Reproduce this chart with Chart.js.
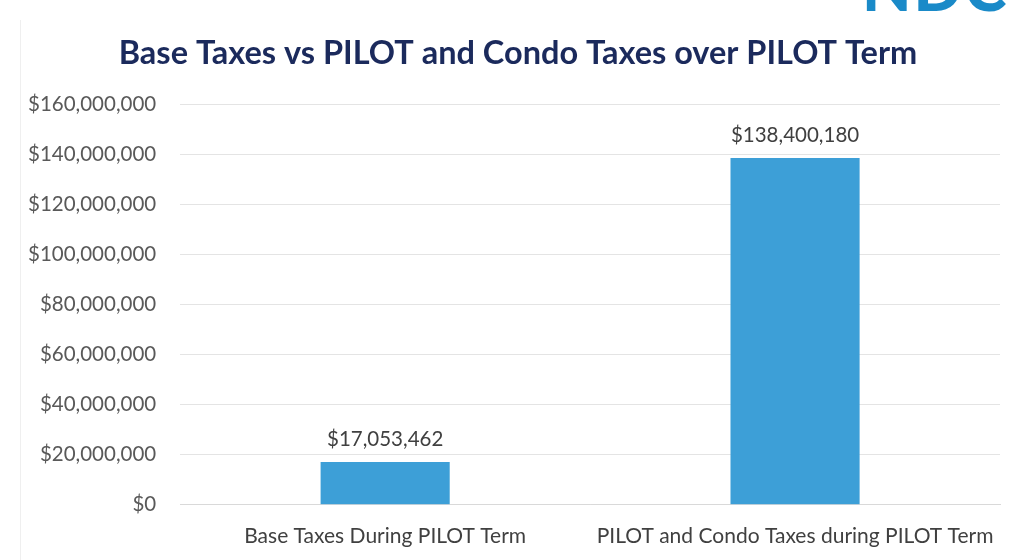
<!DOCTYPE html>
<html>
<head>
<meta charset="utf-8">
<script src="https://cdn.jsdelivr.net/npm/chart.js@4/dist/chart.umd.min.js"></script>
<style>
  html, body { margin: 0; padding: 0; background: #fff; overflow: hidden; }
  #wrap { position: relative; width: 1022px; height: 560px; }
  #logo {
    position: absolute; top: -52px; left: 862px;
    font: 900 64px Lato, sans-serif; color: #1a8ac8; letter-spacing: 2px;
  }
  #frame {
    position: absolute; left: 20px; top: 20px; width: 1px; height: 540px; background: #efefef;
  }
</style>
</head>
<body>
<div id="wrap">
  <div id="frame"></div>
  <div id="logo">NDC</div>
  <canvas id="taxChart" width="1022" height="560"></canvas>
</div>
<script>
const categories = ["Base Taxes During PILOT Term", "PILOT and Condo Taxes during PILOT Term"];
const taxTotals = [17053462, 138400180];
const yMax = 160000000;
const yStep = 20000000;

const money = v => "$" + Math.round(v).toLocaleString("en-US");

// writes the dollar amount above each bar
const valueLabels = {
  id: "valueLabels",
  afterDatasetsDraw(chart) {
    const ctx = chart.ctx;
    const meta = chart.getDatasetMeta(0);
    ctx.save();
    ctx.font = "20.5px Lato, sans-serif";
    ctx.fillStyle = "#404040";
    ctx.textAlign = "center";
    ctx.textBaseline = "bottom";
    meta.data.forEach((bar, i) => {
      ctx.fillText(money(chart.data.datasets[0].data[i]), bar.x, bar.y - 12);
    });
    ctx.restore();
  }
};

// nudge the title a little to the right of the canvas centre
const titleShift = {
  id: "titleShift",
  afterLayout(chart) {
    const t = chart.titleBlock;
    if (t) { t.left += 16; t.right += 16; }
  }
};

const ctx = document.getElementById("taxChart").getContext("2d");
new Chart(ctx, {
  type: "bar",
  data: {
    labels: categories,
    datasets: [{
      data: taxTotals,
      backgroundColor: "#3d9fd7",
      barPercentage: 0.315,
      categoryPercentage: 1
    }]
  },
  options: {
    responsive: false,
    animation: false,
    layout: { padding: { left: 4, right: 22, top: 34, bottom: 0 } },
    plugins: {
      legend: { display: false },
      tooltip: { enabled: false },
      title: {
        display: true,
        text: "Base Taxes vs PILOT and Condo Taxes over PILOT Term",
        color: "#1b2a5c",
        font: { family: "Lato, sans-serif", size: 32.5, weight: "bold" },
        padding: { top: 0, bottom: 31 }
      }
    },
    scales: {
      x: {
        grid: { display: false },
        border: { display: true, color: "#d9d9d9" },
        ticks: {
          color: "#404040",
          font: { family: "Lato, sans-serif", size: 21 },
          padding: 11
        }
      },
      y: {
        min: 0,
        max: yMax,
        border: { display: false },
        grid: { color: "#e4e4e4", drawTicks: false },
        ticks: {
          stepSize: yStep,
          color: "#595959",
          font: { family: "Lato, sans-serif", size: 20.5 },
          padding: 24,
          callback: v => money(v)
        }
      }
    }
  },
  plugins: [valueLabels, titleShift]
});
</script>
</body>
</html>
